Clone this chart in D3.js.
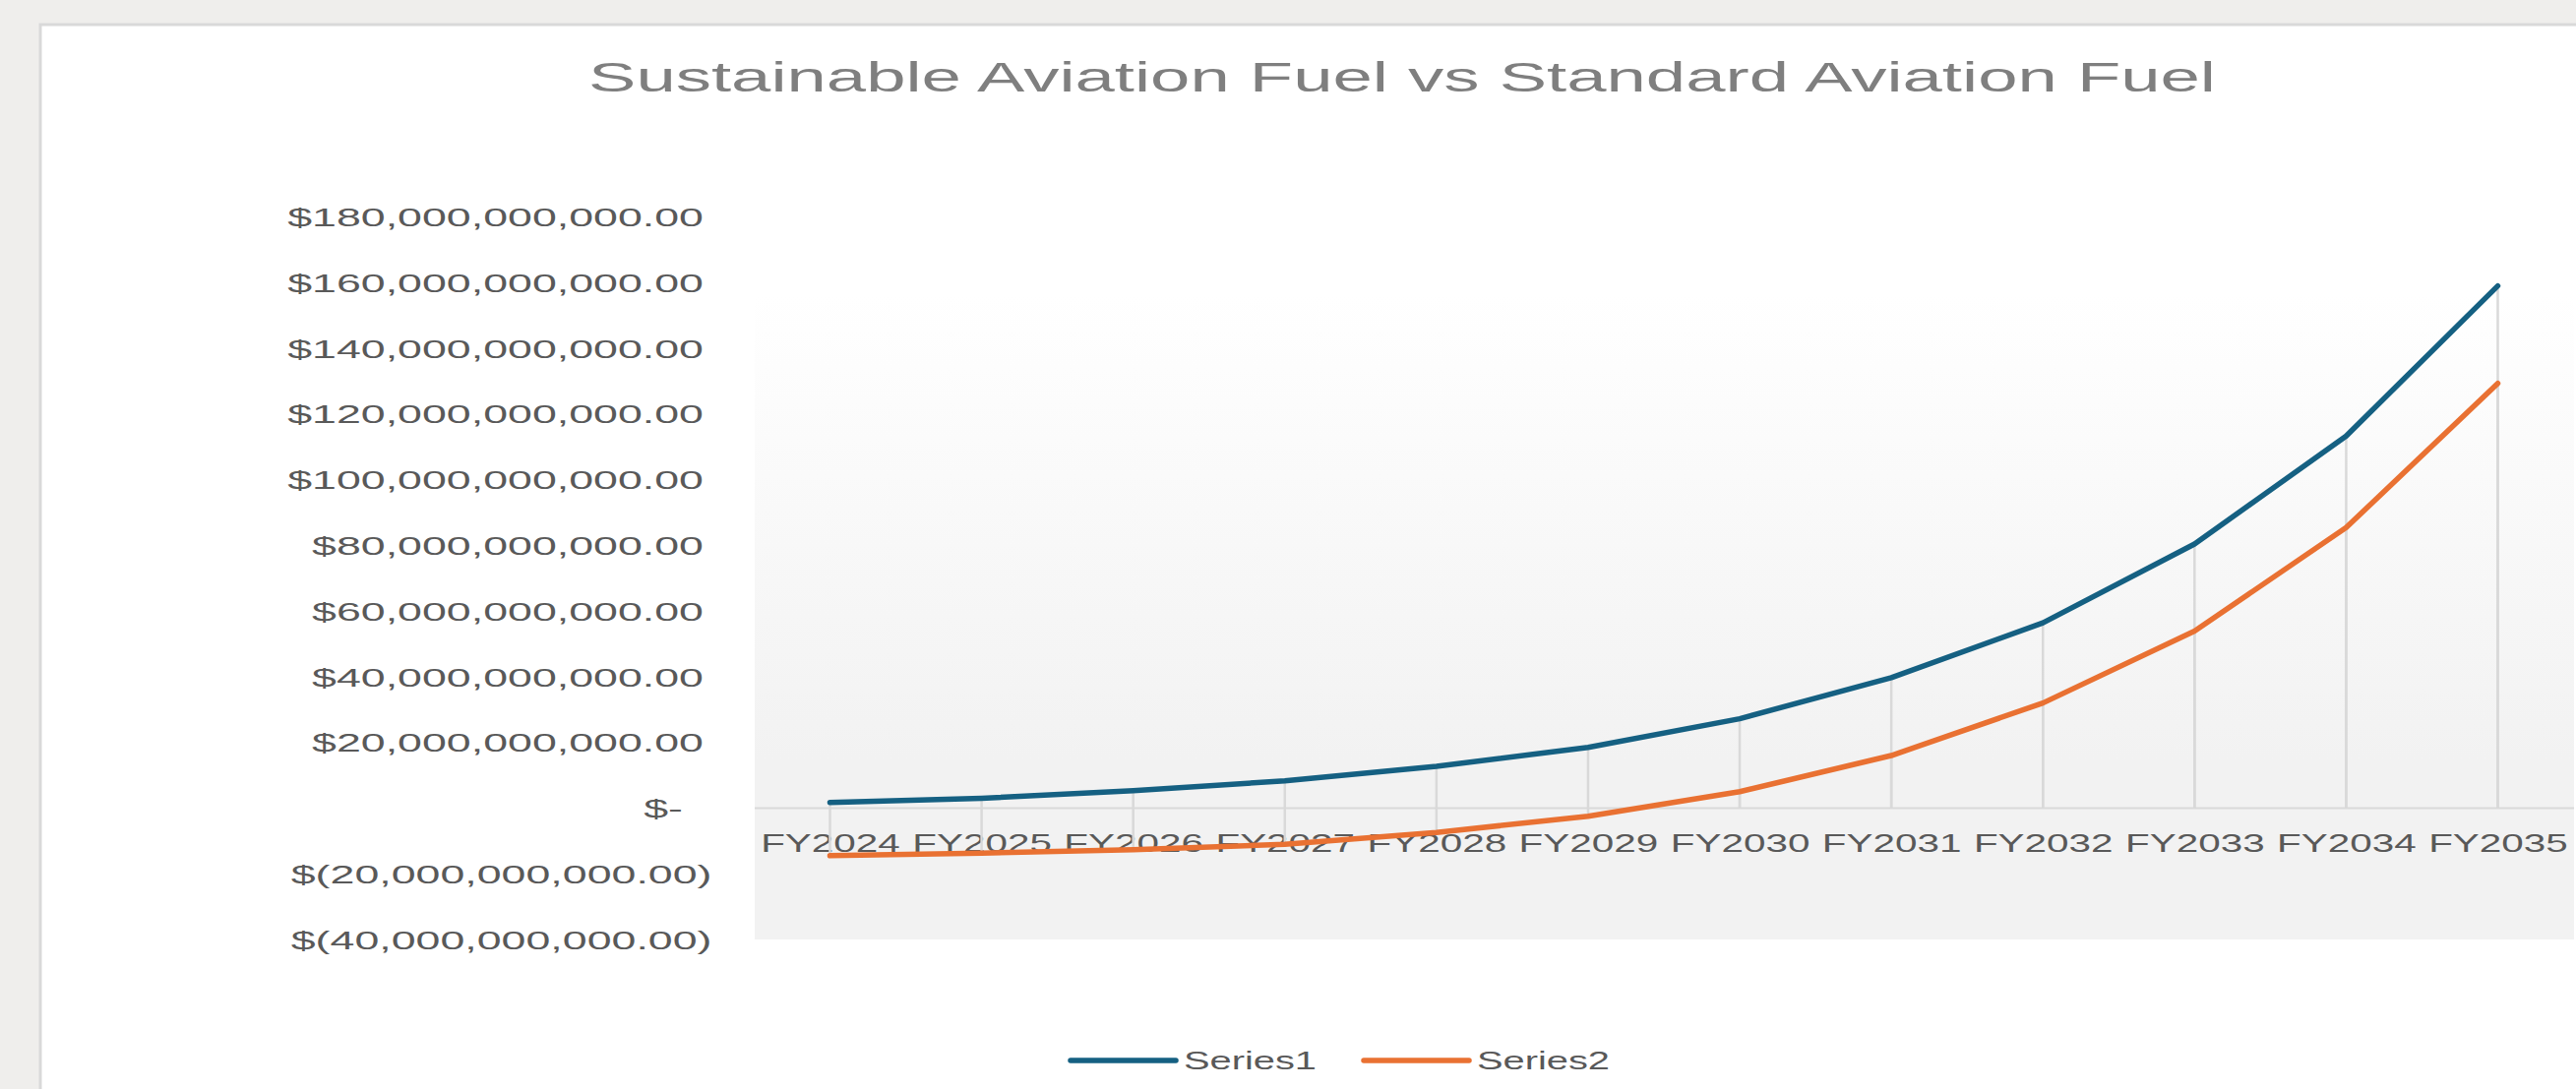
<!DOCTYPE html>
<html>
<head>
<meta charset="utf-8">
<script src="https://cdn.jsdelivr.net/npm/d3@7"></script>
<style>
  html, body { margin: 0; padding: 0; background: #efeeec; }
  svg { display: block; }
  text { font-family: "Liberation Sans", Arial, sans-serif; }
</style>
</head>
<body>
<svg id="chart" width="2618" height="1107"></svg>
<script>
// ---- data (values in billions of dollars) ----
const categories = ["FY2024", "FY2025", "FY2026", "FY2027", "FY2028", "FY2029",
                    "FY2030", "FY2031", "FY2032", "FY2033", "FY2034", "FY2035"];
const series1 = [1.7, 3.0, 5.3, 8.3, 12.7, 18.5, 27.2, 39.7, 56.4, 80.4, 113.3, 159.0];
const series2 = [-14.5, -13.7, -12.7, -11.0, -7.4, -2.5, 5.0, 16.0, 32.0, 53.9, 85.4, 129.3];
const seriesNames = ["Series1", "Series2"];
const seriesColors = ["#156082", "#E97132"];
const yTicks = [-40, -20, 0, 20, 40, 60, 80, 100, 120, 140, 160, 180];
const titleText = "Sustainable Aviation Fuel vs Standard Aviation Fuel";

// ---- layout ----
const W = 2618, H = 1107;
const panel = { x: 41, y: 25 };
const plot = { left: 767, right: 2616, top: 300 };
const labelColor = "#595959";
const gridColor = "#d9d9d9";
const lineWidth = 5.5;

const svg = d3.select("#chart");

// text helpers: glyphs are drawn wide, so each text group gets a horizontal scale
function widthOf(str, size) {
  const t = svg.append("text").attr("font-size", size).text(str);
  const w = t.node().getComputedTextLength();
  t.remove();
  return w;
}

// ---- scales ----
const x = d3.scalePoint().domain(categories).range([843.5, 2538.5]);
const y = d3.scaleLinear().domain([-40, 180]).range([955, 220.5]);

// ---- background & panel ----
svg.append("rect").attr("width", W).attr("height", H).attr("fill", "#efeeec");
svg.append("rect")
  .attr("x", panel.x).attr("y", panel.y)
  .attr("width", W - panel.x + 10).attr("height", H - panel.y + 10)
  .attr("fill", "#ffffff").attr("stroke", "#d9d9d9").attr("stroke-width", 3);

// plot area with a soft vertical gradient
const defs = svg.append("defs");
const grad = defs.append("linearGradient").attr("id", "plotFill")
  .attr("x1", 0).attr("y1", 0).attr("x2", 0).attr("y2", 1);
grad.append("stop").attr("offset", "0%").attr("stop-color", "#ffffff");
grad.append("stop").attr("offset", "72%").attr("stop-color", "#f2f2f2");
grad.append("stop").attr("offset", "100%").attr("stop-color", "#f2f2f2");

svg.append("rect")
  .attr("x", plot.left).attr("y", plot.top)
  .attr("width", plot.right - plot.left).attr("height", y(-40) - plot.top)
  .attr("fill", "url(#plotFill)");

// ---- title ----
const titleSize = 42;
const titleSx = 1654 / widthOf(titleText, titleSize);
svg.append("text")
  .attr("text-anchor", "middle")
  .attr("font-size", titleSize)
  .attr("fill", "#7f7f7f")
  .attr("transform", `translate(1425,93) scale(${titleSx},1)`)
  .text(titleText);

// ---- y axis labels (accounting style) ----
const labelSize = 26;
const num = d3.format(",.2f");
const fmtY = v => v === 0 ? "$-" : v < 0 ? `$(${num(-v * 1e9)})` : `$${num(v * 1e9)}`;
const ySx = 423 / widthOf(fmtY(180), labelSize);

const gY = svg.append("g")
  .call(d3.axisLeft(y).tickValues(yTicks).tickFormat(fmtY).tickSize(0).tickPadding(0));
gY.select(".domain").remove();
gY.attr("font-size", null).attr("font-family", null);
gY.selectAll(".tick text")
  .attr("font-size", labelSize)
  .attr("fill", labelColor)
  .attr("x", 0)
  .attr("dy", "0.35em")
  .attr("text-anchor", "end")
  .attr("transform", d => {
    // positives leave room for a closing paren, zero leaves room for two digits too
    const right = d < 0 ? 723.5 : d === 0 ? 694 : 715;
    return `translate(${right},0) scale(${ySx},1)`;
  });

// ---- x axis ----
const xSx = 141.7 / widthOf("FY2030", labelSize);
const gX = svg.append("g").attr("transform", `translate(0,${y(0)})`)
  .call(d3.axisBottom(x).tickSize(0).tickPadding(26.5));
gX.select(".domain").remove();
gX.attr("font-size", null).attr("font-family", null);
gX.selectAll(".tick text")
  .attr("font-size", labelSize)
  .attr("fill", labelColor)
  .attr("transform", `scale(${xSx},1)`);

// axis baseline
svg.append("line")
  .attr("x1", plot.left).attr("x2", plot.right)
  .attr("y1", y(0)).attr("y2", y(0))
  .attr("stroke", gridColor).attr("stroke-width", 2);

// ---- drop lines from each point to the category axis ----
const allSeries = [series1, series2];
const drops = [];
allSeries.forEach(s => s.forEach((v, i) => drops.push({ c: categories[i], v })));
svg.append("g").selectAll("line").data(drops).join("line")
  .attr("x1", d => x(d.c)).attr("x2", d => x(d.c))
  .attr("y1", y(0)).attr("y2", d => y(d.v))
  .attr("stroke", gridColor).attr("stroke-width", 2.5);

// ---- series lines ----
const line = d3.line().x((d, i) => x(categories[i])).y(d => y(d));
svg.append("g").selectAll("path").data(allSeries).join("path")
  .attr("d", d => line(d))
  .attr("fill", "none")
  .attr("stroke", (d, i) => seriesColors[i])
  .attr("stroke-width", lineWidth)
  .attr("stroke-linecap", "round")
  .attr("stroke-linejoin", "round");

// ---- legend ----
const legSx = 135 / widthOf("Series1", labelSize);
const legY = 1078;
let lx = 1088;
seriesNames.forEach((name, i) => {
  svg.append("line")
    .attr("x1", lx).attr("x2", lx + 107)
    .attr("y1", legY).attr("y2", legY)
    .attr("stroke", seriesColors[i]).attr("stroke-width", lineWidth)
    .attr("stroke-linecap", "round");
  const tx = lx + 115;
  svg.append("text")
    .attr("font-size", labelSize)
    .attr("fill", labelColor)
    .attr("dy", "0.35em")
    .attr("transform", `translate(${tx},${legY}) scale(${legSx},1)`)
    .text(name);
  lx = tx + widthOf(name, labelSize) * legSx + 48;
});
</script>
</body>
</html>
